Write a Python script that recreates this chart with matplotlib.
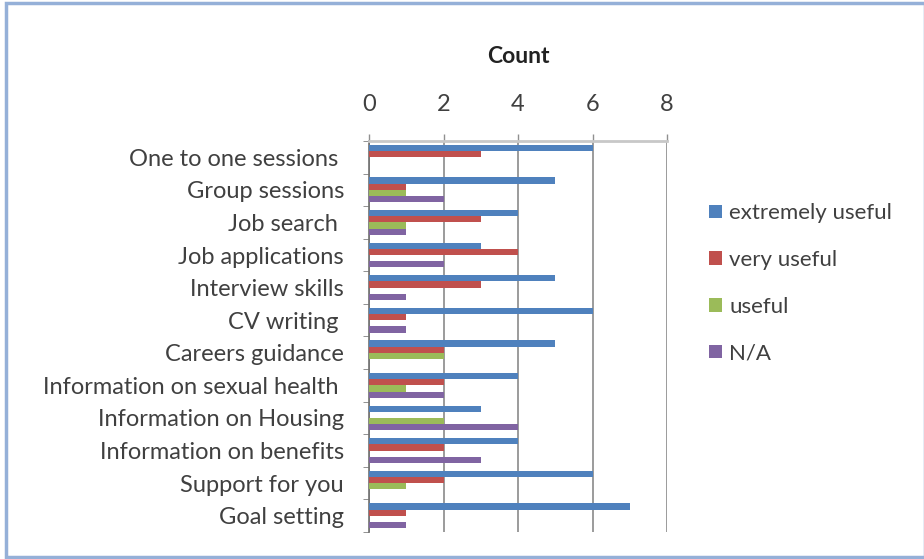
import matplotlib.pyplot as plt
import numpy as np
from matplotlib.patches import Rectangle

plt.rcParams['font.family'] = ['Lato', 'DejaVu Sans']

# categories, top to bottom
categories = ['One to one sessions ', 'Group sessions', 'Job search ', 'Job applications',
              'Interview skills', 'CV writing ', 'Careers guidance',
              'Information on sexual health ', 'Information on Housing',
              'Information on benefits', 'Support for you', 'Goal setting']

extremely_useful = [6, 5, 4, 3, 5, 6, 5, 4, 3, 4, 6, 7]
very_useful = [3, 1, 3, 4, 3, 1, 2, 2, 0, 2, 2, 1]
useful = [0, 1, 1, 0, 0, 0, 2, 1, 2, 0, 1, 0]
not_applicable = [0, 2, 1, 2, 1, 1, 0, 2, 4, 3, 0, 1]

series_names = ['extremely useful', 'very useful', 'useful', 'N/A']
colors = ['#4f81bd', '#c0504d', '#9bbb59', '#8064a2']

fig = plt.figure(figsize=(9.24, 5.59), dpi=100)
ax = fig.add_axes([0.3994, 0.0483, 0.3225, 0.6995])

y = np.arange(len(categories))
h = 0.19
all_series = [extremely_useful, very_useful, useful, not_applicable]
for i, (vals, name, c) in enumerate(zip(all_series, series_names, colors)):
    ax.barh(y + (i - 1.5) * h, vals, height=h, color=c, label=name,
            edgecolor='none', zorder=3)

ax.set_xlim(0, 8)
ax.set_ylim(len(categories) - 0.5, -0.5)
ax.xaxis.tick_top()
ax.xaxis.set_label_position('top')
ax.set_xticks(range(0, 9, 2))
ax.set_xlabel('Count', fontsize=16.5, fontweight='bold', labelpad=22, color='#222222')
ax.tick_params(axis='x', length=5, width=1, color='#909090', pad=14,
               labelsize=17, labelcolor='#404040')
ax.grid(axis='x', color='#8a8a8a', linewidth=1.2, zorder=0)

ax.set_yticks(y)
ax.set_yticklabels(categories)
ax.set_yticks(np.arange(-0.5, len(categories)), minor=True)
ax.tick_params(axis='y', which='major', length=0, pad=18, labelsize=17, labelcolor='#404040')
ax.tick_params(axis='y', which='minor', length=4, color='#808080', direction='out')

for s in ['right', 'bottom']:
    ax.spines[s].set_visible(False)
ax.spines['top'].set_color('#c8c8c8')
ax.spines['top'].set_linewidth(2)
ax.spines['left'].set_color('#707070')
ax.spines['left'].set_linewidth(1.2)

fig.legend(loc='upper left', bbox_to_anchor=(0.746, 0.672), frameon=False,
           fontsize=16, handlelength=0.55, handleheight=0.55, handletextpad=0.35,
           labelspacing=1.2, labelcolor='#404040')

# outer chart frame
fig.patches.append(Rectangle((0.006, 0.004), 0.995, 0.99, transform=fig.transFigure,
                             fill=False, edgecolor='#95b0d8', linewidth=2.5))

fig.savefig('out.png', dpi=100)
